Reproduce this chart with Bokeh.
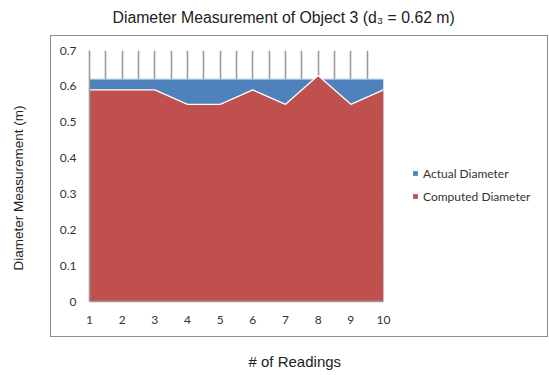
from bokeh.plotting import figure
from bokeh.models import (ColumnDataSource, Legend, LegendItem, FixedTicker,
                          NumeralTickFormatter, Title, InlineStyleSheet)
from bokeh.embed import file_html
from bokeh.resources import INLINE

# ---- data ----
readings = [1, 2, 3, 4, 5, 6, 7, 8, 9, 10]
actual_diameter = [0.62, 0.62, 0.62, 0.62, 0.62, 0.62, 0.62, 0.62, 0.62, 0.62]
computed_diameter = [0.59, 0.59, 0.59, 0.55, 0.55, 0.59, 0.55, 0.63, 0.55, 0.59]
y_ticks = [0, 0.1, 0.2, 0.3, 0.4, 0.5, 0.6, 0.7]
x_grid = [1, 1.5, 2, 2.5, 3, 3.5, 4, 4.5, 5, 5.5, 6, 6.5, 7, 7.5, 8, 8.5, 9, 9.5, 10]
title_text = "Diameter Measurement of Object 3 (d\u2083 = 0.62 m)"
x_title = "# of Readings"
y_title = "Diameter Measurement  (m)"
series_names = ["Actual Diameter", "Computed Diameter"]

BLUE = "#4f81bd"
RED = "#c0504d"
GRID = "#9a9a9a"
TICKFONT = "Lato"
TITLEFONT = "Liberation Sans"

src = ColumnDataSource(dict(x=readings, actual=actual_diameter, computed=computed_diameter))

p = figure(frame_width=294, frame_height=251, x_range=(1, 10), y_range=(0, 0.7),
           output_backend="svg", toolbar_location=None,
           min_border_left=89, min_border_right=166, min_border_top=50, min_border_bottom=74)

p.outline_line_color = None
p.background_fill_color = "white"
p.border_fill_color = "white"

# grids
p.xgrid.ticker = FixedTicker(ticks=x_grid)
p.ygrid.ticker = FixedTicker(ticks=y_ticks)
for g in (p.xgrid, p.ygrid):
    g.grid_line_color = GRID
    g.grid_line_width = 1.6

# axes
p.xaxis.ticker = FixedTicker(ticks=readings)
p.yaxis.ticker = FixedTicker(ticks=y_ticks)
p.yaxis.formatter = NumeralTickFormatter(format="0.[0]")
for ax in (p.xaxis, p.yaxis):
    ax.axis_line_color = GRID
    ax.axis_line_width = 1.6
    ax.major_tick_line_color = None
    ax.minor_tick_line_color = None
    ax.major_tick_out = 0
    ax.major_tick_in = 0
    ax.major_label_text_font = TICKFONT
    ax.major_label_text_font_size = "12px"
    ax.major_label_text_color = "#333333"
p.yaxis.major_label_standoff = 13
p.xaxis.major_label_standoff = 14

# areas
r_act = p.varea(x="x", y1=0, y2="actual", source=src, fill_color=BLUE)
p.line(x="x", y="actual", source=src, line_color="#a9c4e8", line_width=1)
r_comp = p.varea(x="x", y1=0, y2="computed", source=src, fill_color=RED)
p.line(x="x", y="computed", source=src, line_color="white", line_width=1.3)

# legend in the right side panel
legend = Legend(items=[LegendItem(label=series_names[0], renderers=[r_act]),
                       LegendItem(label=series_names[1], renderers=[r_comp])],
                location=(29, 95), orientation="vertical",
                glyph_width=6, glyph_height=6, label_standoff=5, spacing=3,
                label_height=20, padding=0, margin=0,
                border_line_color=None, background_fill_alpha=0,
                label_text_font=TICKFONT, label_text_font_size="12px",
                label_text_color="#333333")
p.add_layout(legend, "right")

# titles (spacers keep them clear of the chart border)
p.title.text = ""
p.add_layout(Title(text=" ", text_font_size="1px", standoff=22), "above")
p.add_layout(Title(text=title_text, align="left", offset=23, standoff=0,
                   text_font=TITLEFONT, text_font_size="15.8px", text_font_style="normal",
                   text_color="#222222"), "above")

p.add_layout(Title(text=" ", text_font_size="1px", standoff=23), "below")
p.add_layout(Title(text=x_title, align="left", offset=159, standoff=0, vertical_align="top",
                   text_font=TITLEFONT, text_font_size="15px", text_font_style="normal",
                   text_color="#222222"), "below")

p.add_layout(Title(text=" ", text_font_size="1px", standoff=28), "left")
p.add_layout(Title(text=y_title, align="left", offset=31, standoff=0, vertical_align="bottom",
                   text_font=TITLEFONT, text_font_size="13.5px", text_font_style="normal",
                   text_color="#222222"), "left")

# outer chart-area border
p.stylesheets = [InlineStyleSheet(css=(
    ":host::after { content: ''; position: absolute; left: 50px; top: 35px; "
    "width: 498px; height: 302px; border: 1.5px solid #8c8c8c; box-sizing: border-box; "
    "pointer-events: none; z-index: 10; }"))]

open("out.html", "w").write(file_html(p, INLINE))
